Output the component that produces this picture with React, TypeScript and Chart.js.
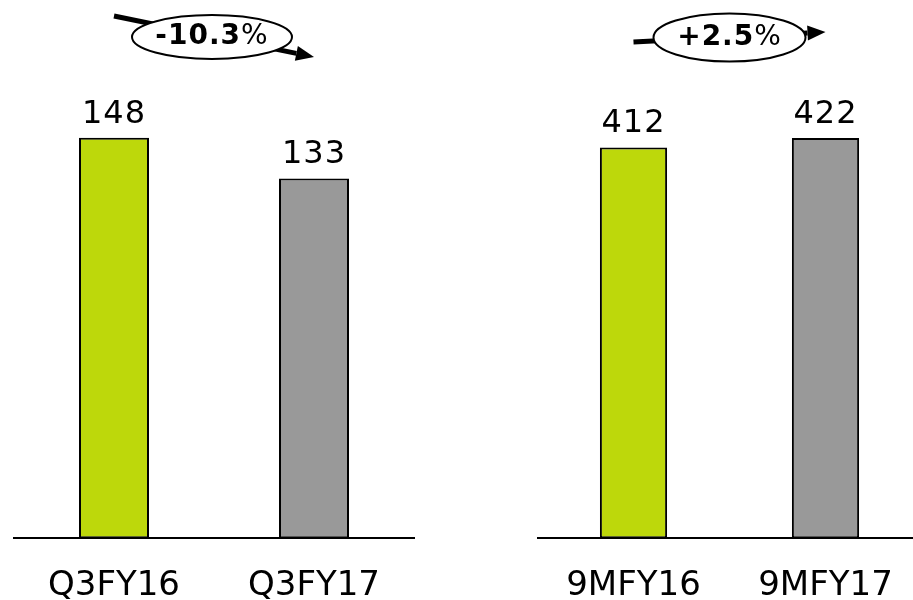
import React, { useEffect, useRef } from "react";
import { Chart, registerables } from "chart.js";

Chart.register(...registerables);

const leftCategories = ["Q3FY16", "Q3FY17"];
const leftValues = [148, 133];
const leftChange = "-10.3%";
const leftAxisMax = 162;

const rightCategories = ["9MFY16", "9MFY17"];
const rightValues = [412, 422];
const rightChange = "+2.5%";
const rightAxisMax = 462;

const barColors = ["#bdd80b", "#999999"];
const FONT = "'DejaVu Sans', sans-serif";
const CANVAS_H = 607;

const annotPlugin = {
  id: "annot",
  afterDraw(chart: any, _args: any, opts: any) {
    const ctx = chart.ctx as CanvasRenderingContext2D;
    const meta = chart.getDatasetMeta(0);
    const ds = chart.data.datasets[0];
    ctx.save();
    // value labels
    ctx.fillStyle = "#000";
    ctx.textAlign = "center";
    ctx.textBaseline = "alphabetic";
    ctx.font = `32px ${FONT}`;
    (ctx as any).letterSpacing = "1px";
    meta.data.forEach((el: any, i: number) => {
      ctx.fillText(String(ds.data[i]), el.x, el.y - 15);
    });
    (ctx as any).letterSpacing = "0px";

    // arrow
    const x0 = meta.data[0].x;
    const x1 = meta.data[meta.data.length - 1].x;
    const [y0, y1] = opts.arrowY;
    const ang = Math.atan2(y1 - y0, x1 - x0);
    const headLen = 18;
    const headHalf = 7.5;
    const bx = x1 - Math.cos(ang) * headLen;
    const by = y1 - Math.sin(ang) * headLen;
    ctx.strokeStyle = "#000";
    ctx.lineWidth = 5;
    ctx.beginPath();
    ctx.moveTo(x0, y0);
    ctx.lineTo(bx, by);
    ctx.stroke();
    ctx.fillStyle = "#000";
    ctx.beginPath();
    ctx.moveTo(x1, y1);
    ctx.lineTo(bx + Math.sin(ang) * headHalf, by - Math.cos(ang) * headHalf);
    ctx.lineTo(bx - Math.sin(ang) * headHalf, by + Math.cos(ang) * headHalf);
    ctx.closePath();
    ctx.fill();

    // ellipse
    const cx = (x0 + x1) / 2 + opts.dx;
    const cy = opts.cy;
    ctx.beginPath();
    ctx.ellipse(cx, cy, opts.rx, opts.ry, 0, 0, Math.PI * 2);
    ctx.fillStyle = "#fff";
    ctx.fill();
    ctx.lineWidth = 2;
    ctx.strokeStyle = "#000";
    ctx.stroke();

    // text
    const label: string = opts.label;
    const num = label.replace("%", "");
    ctx.textAlign = "left";
    ctx.textBaseline = "alphabetic";
    (ctx as any).letterSpacing = "1px";
    ctx.font = `bold 28px ${FONT}`;
    const w1 = ctx.measureText(num).width;
    ctx.font = `28px ${FONT}`;
    const w2 = ctx.measureText("%").width;
    const sx = cx - (w1 + w2) / 2;
    ctx.fillStyle = "#000";
    ctx.font = `bold 28px ${FONT}`;
    ctx.fillText(num, sx, cy + 7);
    ctx.font = `28px ${FONT}`;
    ctx.fillText("%", sx + w1, cy + 7);
    ctx.restore();
  },
};

function makeConfig(
  categories: string[],
  values: number[],
  axisMax: number,
  padLeft: number,
  padRight: number,
  annot: any
): any {
  return {
    type: "bar",
    data: {
      labels: categories,
      datasets: [
        {
          data: values,
          backgroundColor: barColors,
          borderColor: "#000",
          borderWidth: 2,
          borderSkipped: false,
          barPercentage: 0.35,
          categoryPercentage: 1,
        },
      ],
    },
    options: {
      responsive: false,
      animation: false,
      layout: { padding: { left: padLeft, right: padRight, top: 100, bottom: -28 } },
      plugins: {
        legend: { display: false },
        tooltip: { enabled: false },
        annot,
      },
      scales: {
        x: {
          grid: { display: false, drawTicks: false },
          border: { display: true, color: "#000", width: 2 },
          ticks: { color: "#000", font: { family: FONT, size: 34 }, padding: 28 },
        },
        y: { display: false, min: 0, max: axisMax },
      },
    },
    plugins: [annotPlugin],
  };
}

export default function App() {
  const leftRef = useRef<HTMLCanvasElement>(null);
  const rightRef = useRef<HTMLCanvasElement>(null);

  useEffect(() => {
    const c1 = new Chart(
      leftRef.current!,
      makeConfig(leftCategories, leftValues, leftAxisMax, 14, 42, {
        label: leftChange,
        arrowY: [16, 57],
        cy: 37,
        rx: 80,
        ry: 22,
        dx: -2,
      })
    );
    const c2 = new Chart(
      rightRef.current!,
      makeConfig(rightCategories, rightValues, rightAxisMax, 81.5, 8.5, {
        label: rightChange,
        arrowY: [42, 32],
        cy: 37.5,
        rx: 76,
        ry: 24,
        dx: 0,
      })
    );
    return () => {
      c1.destroy();
      c2.destroy();
    };
  }, []);

  return (
    <div
      style={{
        position: "fixed",
        left: 0,
        top: 0,
        width: 913,
        height: 600,
        overflow: "hidden",
        background: "#fff",
      }}
    >
      <canvas
        ref={leftRef}
        width={456}
        height={CANVAS_H}
        style={{ position: "absolute", left: 0, top: 0, width: 456, height: CANVAS_H }}
      />
      <canvas
        ref={rightRef}
        width={474}
        height={CANVAS_H}
        style={{ position: "absolute", left: 456, top: 0, width: 474, height: CANVAS_H }}
      />
    </div>
  );
}
